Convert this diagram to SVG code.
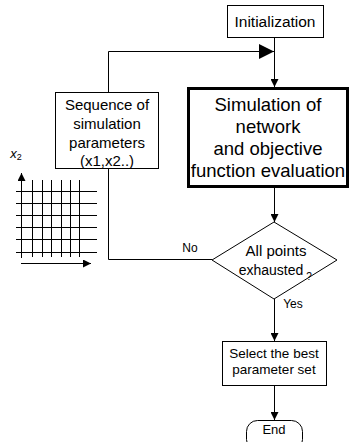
<svg xmlns="http://www.w3.org/2000/svg" width="350" height="442" viewBox="0 0 350 442">
<defs>
<marker id="ah" viewBox="0 0 10 10" refX="10" refY="5" markerWidth="8" markerHeight="8" markerUnits="userSpaceOnUse" orient="auto">
<path d="M0,0 L10,5 L0,10 Z" fill="#000"/>
</marker>
<marker id="big" viewBox="0 0 10 10" refX="10" refY="5" markerWidth="15" markerHeight="15" markerUnits="userSpaceOnUse" orient="auto">
<path d="M0,0 L10,5 L0,10 Z" fill="#000"/>
</marker>
</defs>
<style>
text{font-family:"Liberation Sans",Arial,sans-serif;fill:#000;text-anchor:middle}
.box{fill:#fff;stroke:#000;stroke-width:1}
.ln{fill:none;stroke:#000;stroke-width:1}
.grid line{stroke:#000;stroke-width:1}
</style>
<rect width="350" height="442" fill="#fff"/>
<g id="connectors">
<path class="ln" d="M274.5,38 V87" marker-end="url(#ah)"/>
<path class="ln" d="M108.5,92 V51.5 H274" marker-end="url(#big)"/>
<path class="ln" d="M274.5,187 V222" marker-end="url(#ah)"/>
<path class="ln" d="M212,259.5 H108.5 V168"/>
<path class="ln" d="M274.5,299 V341" marker-end="url(#ah)"/>
<path class="ln" d="M274.5,385 V420" marker-end="url(#ah)"/>
<text x="190" y="252" font-size="12">No</text>
<text x="293" y="308" font-size="12">Yes</text>
</g>
<g id="init">
<rect class="box" x="227.5" y="5.5" width="96" height="32"/>
<text x="275" y="27" font-size="15.5">Initialization</text>
</g>
<g id="simulation">
<rect x="188.5" y="88.5" width="159" height="98" fill="#fff" stroke="#000" stroke-width="3"/>
<text font-size="18.5"><tspan x="268" y="111">Simulation of</tspan><tspan x="268" y="133">network</tspan><tspan x="268" y="155">and objective</tspan><tspan x="268" y="177">function evaluation</tspan></text>
</g>
<g id="sequence">
<rect class="box" x="55.5" y="92.5" width="103" height="76"/>
<text font-size="15"><tspan x="107" y="110">Sequence of</tspan><tspan x="107" y="129">simulation</tspan><tspan x="107" y="148">parameters</tspan><tspan x="107" y="166">(x1,x2..)</tspan></text>
</g>
<g id="decision">
<polygon class="box" points="274,222 337,260 274,299 212,260"/>
<text x="276" y="256" font-size="15">All points</text>
<text x="271" y="275" font-size="14">exhausted</text>
<text x="309" y="280" font-size="10">?</text>
</g>
<g id="select">
<rect class="box" x="222.5" y="341.5" width="104" height="44"/>
<text font-size="13.5"><tspan x="274" y="358">Select the best</tspan><tspan x="274" y="374">parameter set</tspan></text>
</g>
<g id="end">
<rect class="box" x="246.5" y="420.5" width="56" height="30" rx="11" ry="11"/>
<text x="274" y="434" font-size="13">End</text>
</g>
<g id="grid" class="grid">
<line x1="32.5" y1="180" x2="32.5" y2="257"/>
<line x1="42.5" y1="180" x2="42.5" y2="257"/>
<line x1="51.5" y1="180" x2="51.5" y2="257"/>
<line x1="61.5" y1="180" x2="61.5" y2="257"/>
<line x1="70.5" y1="180" x2="70.5" y2="257"/>
<line x1="79.5" y1="180" x2="79.5" y2="257"/>
<line x1="16" y1="191.5" x2="97" y2="191.5"/>
<line x1="16" y1="203.5" x2="97" y2="203.5"/>
<line x1="16" y1="215.5" x2="97" y2="215.5"/>
<line x1="16" y1="227.5" x2="97" y2="227.5"/>
<line x1="16" y1="239.5" x2="97" y2="239.5"/>
<line x1="16" y1="252.5" x2="97" y2="252.5"/>
<path class="ln" d="M21.5,258 V173" marker-end="url(#ah)"/>
<path class="ln" d="M21,263.5 H91" marker-end="url(#ah)"/>
<text x="16" y="158" font-size="13" font-style="italic">x<tspan font-size="9" font-style="normal" dy="2">2</tspan></text>
</g>
</svg>
